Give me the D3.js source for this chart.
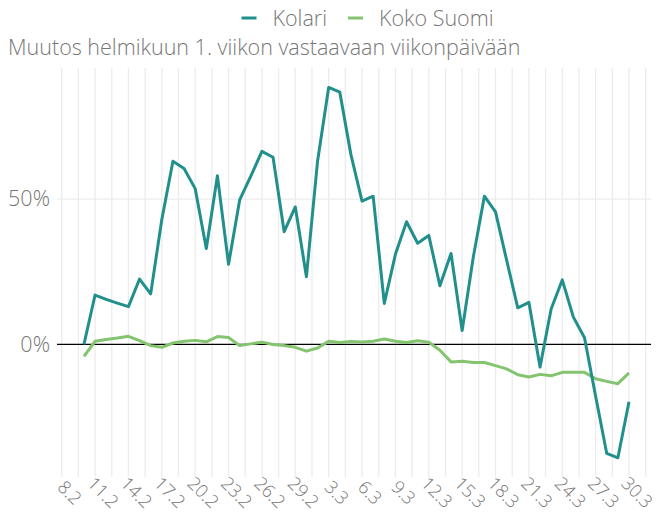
<!DOCTYPE html>
<html>
<head>
<meta charset="utf-8">
<script src="https://cdn.jsdelivr.net/npm/d3@7"></script>
<style>
  html, body { margin: 0; padding: 0; background: #fff; }
  svg text { font-family: "Open Sans", Lato, sans-serif; font-weight: 300; fill: #777; }
</style>
</head>
<body>
<svg id="vis" width="657" height="513"></svg>
<script>
const subtitle = "Muutos helmikuun 1. viikon vastaavaan viikonpäivään";
const seriesNames = ["Kolari", "Koko Suomi"];
const seriesColors = ["#21908c", "#84c46e"];

// first and last day with data (2020)
const firstDay = new Date(2020, 1, 10);
const lastDay = new Date(2020, 2, 30);

const kolari = [
  0, 17, 15.5, 14.2, 13, 22.5, 17.4, 43, 63, 60.5,
  53.6, 33, 58, 27.6, 49.7, 57.9, 66.4, 64.4, 38.8, 47.3,
  23.3, 63, 88.4, 86.8, 65.3, 49.3, 51, 14.1, 31, 42.2,
  34.8, 37.5, 20.2, 31.3, 4.8, 30, 51, 45.6, 29, 12.6,
  14.5, -7.8, 12.2, 22.2, 9.4, 2.3, -17.8, -37.5, -39, -19.7
];
const kokoSuomi = [
  -4.1, 1.1, 1.7, 2.2, 2.8, 1.3, -0.4, -1.0, 0.5, 1.1,
  1.4, 0.9, 2.7, 2.4, -0.4, 0.2, 0.8, 0, -0.4, -1.0,
  -2.3, -1.2, 1.1, 0.7, 1.0, 0.8, 1.1, 1.9, 1.1, 0.7,
  1.3, 0.8, -2.0, -6.0, -5.8, -6.2, -6.2, -7.3, -8.4, -10.4,
  -11.2, -10.3, -10.8, -9.6, -9.6, -9.6, -11.8, -12.7, -13.5, -9.8
];
const yTicks = [0, 50];

const days = d3.timeDay.range(firstDay, d3.timeDay.offset(lastDay, 1));
const series = [kolari, kokoSuomi].map((vals, k) =>
  vals.map((v, i) => ({ date: days[i], value: v, key: seriesNames[k] })));

const axisStart = new Date(2020, 1, 8);
const panel = { left: 57, right: 651, top: 68, bottom: 477 };
const svg = d3.select("#vis");

const x = d3.scaleTime()
  .domain([axisStart, new Date(2020, 2, 30)])
  .range([61.7, 629]);
const y = d3.scaleLinear()
  .domain([-45.6, 95.1])
  .range([panel.bottom, panel.top]);

// vertical grid every 1.5 days
const gridDates = d3.range(0, 36).map(i => new Date(+axisStart + i * 36 * 3600e3));
svg.append("g")
  .selectAll("line")
  .data(gridDates)
  .join("line")
  .attr("x1", d => x(d)).attr("x2", d => x(d))
  .attr("y1", panel.top).attr("y2", panel.bottom)
  .attr("stroke", "#ececec")
  .attr("stroke-width", 1.3);

svg.append("g")
  .selectAll("line")
  .data(yTicks.filter(d => d !== 0))
  .join("line")
  .attr("x1", panel.left).attr("x2", panel.right)
  .attr("y1", d => y(d)).attr("y2", d => y(d))
  .attr("stroke", "#ececec")
  .attr("stroke-width", 1.3);

// y axis labels
const yAxis = d3.axisLeft(y)
  .tickValues(yTicks)
  .tickFormat(d => d + "%")
  .tickSize(0)
  .tickPadding(7);
svg.append("g")
  .attr("transform", `translate(${panel.left},0)`)
  .call(yAxis)
  .call(g => g.select(".domain").remove())
  .call(g => g.selectAll("text").attr("font-size", 21.5).attr("fill", null));

// x axis labels, every 3 days, rotated around their centre
const xAxis = d3.axisBottom(x)
  .tickValues(d3.range(0, 18).map(i => d3.timeDay.offset(axisStart, i * 3)))
  .tickFormat(d3.timeFormat("%-d.%-m"))
  .tickSize(0);
svg.append("g")
  .attr("transform", `translate(0,${panel.bottom})`)
  .call(xAxis)
  .call(g => g.select(".domain").remove())
  .call(g => g.selectAll("text")
    .attr("font-size", 18)
    .attr("fill", null)
    .attr("text-anchor", "middle")
    .attr("dominant-baseline", "central")
    .attr("dy", 0)
    .attr("y", 0)
    .attr("transform", "translate(8,15) rotate(45)"));

// zero line
svg.append("line")
  .attr("x1", panel.left).attr("x2", panel.right)
  .attr("y1", y(0)).attr("y2", y(0))
  .attr("stroke", "#000")
  .attr("stroke-width", 1.2);

const line = d3.line()
  .x(d => x(d.date))
  .y(d => y(d.value));

svg.append("g")
  .selectAll("path")
  .data(series.slice().reverse())
  .join("path")
  .attr("d", line)
  .attr("fill", "none")
  .attr("stroke", d => seriesColors[seriesNames.indexOf(d[0].key)])
  .attr("stroke-width", 3)
  .attr("stroke-linejoin", "round");

// subtitle
svg.append("text")
  .attr("x", 8)
  .attr("y", 55)
  .attr("font-size", 21.5)
  .text(subtitle);

// legend
const legendPos = [241.5, 348];
const legend = svg.append("g")
  .selectAll("g")
  .data(seriesNames)
  .join("g")
  .attr("transform", (d, i) => `translate(${legendPos[i]},18)`);
legend.append("line")
  .attr("x1", 0).attr("x2", 15)
  .attr("stroke", (d, i) => seriesColors[i])
  .attr("stroke-width", 3);
legend.append("text")
  .attr("x", 31)
  .attr("dy", "0.35em")
  .attr("font-size", 21.5)
  .text(d => d);
</script>
</body>
</html>
